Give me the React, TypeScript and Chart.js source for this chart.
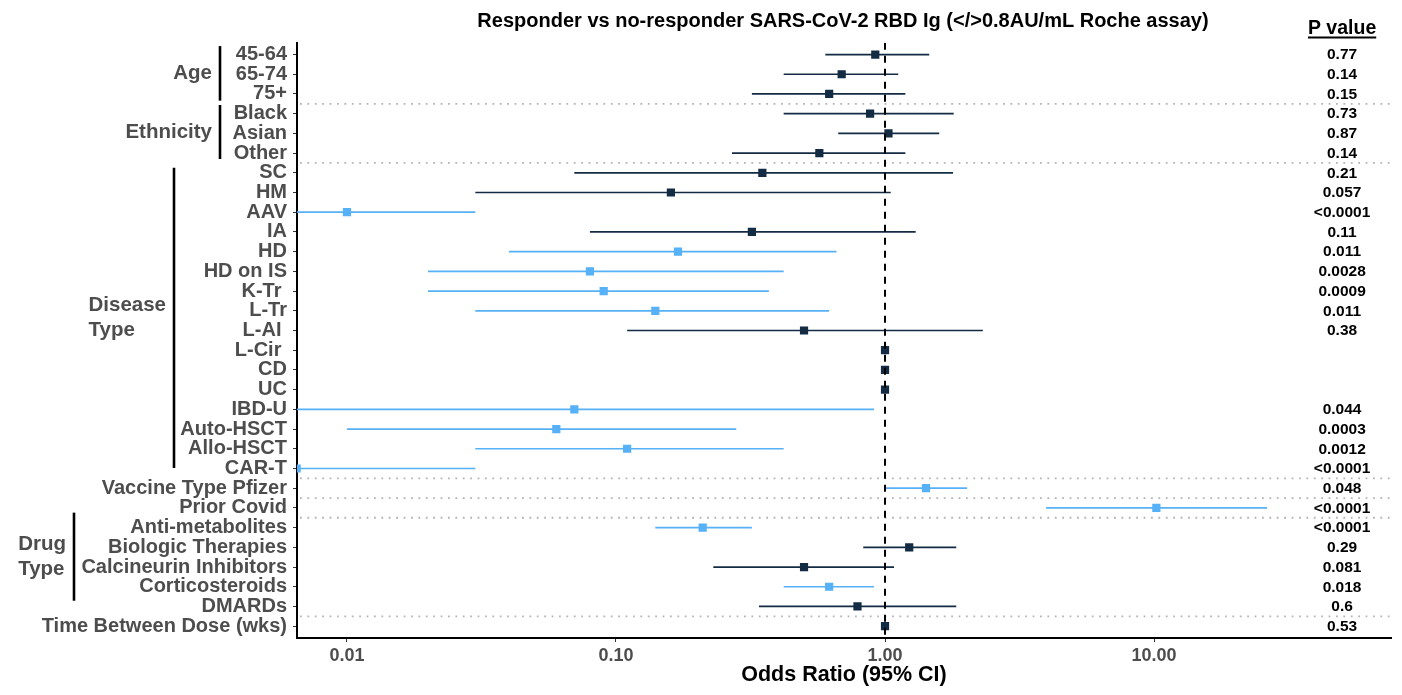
import React, { useEffect, useRef } from "react";
import { Chart, registerables } from "chart.js";

Chart.register(...registerables);

// ---------------- data ----------------
const TITLE = "Responder vs no-responder SARS-CoV-2 RBD Ig (</>0.8AU/mL Roche assay)";
const X_TITLE = "Odds Ratio (95% CI)";
const P_HEADER = "P value";

const ROW_LABELS = [
  "45-64", "65-74", "75+",
  "Black", "Asian", "Other",
  "SC", "HM", "AAV", "IA", "HD", "HD on IS", "K-Tr ", "L-Tr", "L-AI ", "L-Cir ", "CD", "UC",
  "IBD-U", "Auto-HSCT", "Allo-HSCT", "CAR-T",
  "Vaccine Type Pfizer",
  "Prior Covid",
  "Anti-metabolites", "Biologic Therapies", "Calcineurin Inhibitors", "Corticosteroids", "DMARDs",
  "Time Between Dose (wks)",
];

const ODDS_RATIO = [
  0.92, 0.69, 0.62,
  0.88, 1.03, 0.57,
  0.35, 0.16, 0.010, 0.32, 0.17, 0.080, 0.090, 0.14, 0.50, 1.0, 1.0, 1.0,
  0.070, 0.060, 0.11, 0.0065,
  1.42,
  10.2,
  0.21, 1.23, 0.50, 0.62, 0.79,
  1.0,
];

const CI_LOWER = [
  0.60, 0.42, 0.32,
  0.42, 0.67, 0.27,
  0.070, 0.030, 0.003, 0.080, 0.040, 0.020, 0.020, 0.030, 0.11, null, null, null,
  0.005, 0.010, 0.030, 0.001,
  1.0,
  3.97,
  0.14, 0.83, 0.23, 0.42, 0.34,
  null,
];

const CI_UPPER = [
  1.46, 1.12, 1.19,
  1.80, 1.59, 1.19,
  1.79, 1.05, 0.030, 1.30, 0.66, 0.42, 0.37, 0.62, 2.31, null, null, null,
  0.91, 0.28, 0.42, 0.030,
  2.02,
  26.3,
  0.32, 1.84, 1.08, 0.91, 1.84,
  null,
];

const P_LABELS = [
  "0.77", "0.14", "0.15",
  "0.73", "0.87", "0.14",
  "0.21", "0.057", "<0.0001", "0.11", "0.011", "0.0028", "0.0009", "0.011", "0.38", "", "", "",
  "0.044", "0.0003", "0.0012", "<0.0001",
  "0.048",
  "<0.0001",
  "<0.0001", "0.29", "0.081", "0.018", "0.6",
  "0.53",
];

const SECTION_LABELS = ["Age", "Ethnicity", "Disease\nType", "", "", "Drug\nType", ""];
const SECTION_SIZES = [3, 3, 16, 1, 1, 5, 1];

const X_TICKS = [0.01, 0.1, 1, 10];
const X_TICK_LABELS = ["0.01", "0.10", "1.00", "10.00"];
const X_MIN = 0.00652;
const X_MAX = 76;
const REF_VALUE = 1;
const P_COLUMN_VALUE = 50;
const SIG_LEVEL = 0.05;

// ---------------- style ----------------
const FONT = "'Liberation Sans', Arial, Helvetica, sans-serif";
const DARK = "#132B43";
const LIGHT = "#56B1F7";
const LABEL_GREY = "#4d4d4d";
const Y_PAD = 0.6;

// group bracket layout (pixel x of bar, extent in row units relative to first/last row)
const GROUP_STYLE: Array<{ x: number; top: number; bottom: number } | null> = [
  { x: 220, top: -0.43, bottom: 0.34 },
  { x: 220, top: -0.44, bottom: 0.3 },
  { x: 174, top: -0.25, bottom: -0.03 },
  null,
  null,
  { x: 74, top: -0.76, bottom: -0.29 },
  null,
];

const annotationPlugin = {
  id: "forestAnnotations",
  beforeDatasetsDraw(chart: any) {
    const { ctx, chartArea: a, scales } = chart;
    const y = scales.y;
    ctx.save();
    ctx.strokeStyle = "#b4b4b4";
    ctx.lineWidth = 1.8;
    ctx.setLineDash([1.8, 5.6]);
    let acc = 0;
    for (let s = 0; s < SECTION_SIZES.length - 1; s++) {
      acc += SECTION_SIZES[s];
      const py = y.getPixelForValue(acc - 0.5);
      ctx.beginPath();
      ctx.moveTo(a.left + 3, py);
      ctx.lineTo(a.right, py);
      ctx.stroke();
    }
    ctx.restore();
  },
  afterDraw(chart: any) {
    const { ctx, chartArea: a, scales } = chart;
    const x = scales.x;
    const y = scales.y;
    ctx.save();
    ctx.setLineDash([]);

    // title
    ctx.fillStyle = "#000";
    ctx.textAlign = "center";
    ctx.textBaseline = "middle";
    ctx.font = `bold 20px ${FONT}`;
    ctx.fillText(TITLE, (a.left + a.right) / 2 - 1, 21);

    // P value column
    const px = x.getPixelForValue(P_COLUMN_VALUE);
    ctx.font = `bold 19.5px ${FONT}`;
    ctx.fillText(P_HEADER, px, 29);
    const hw = ctx.measureText(P_HEADER).width;
    ctx.strokeStyle = "#000";
    ctx.lineWidth = 1.8;
    ctx.beginPath();
    ctx.moveTo(px - hw / 2, 37.5);
    ctx.lineTo(px + hw / 2, 37.5);
    ctx.stroke();

    ctx.font = `bold 15.5px ${FONT}`;
    P_LABELS.forEach((p, i) => {
      if (p) ctx.fillText(p, px, y.getPixelForValue(i) + 0.5);
    });

    // group labels and brackets
    let start = 0;
    SECTION_SIZES.forEach((n, si) => {
      const first = start;
      const last = start + n - 1;
      start += n;
      const name = SECTION_LABELS[si];
      const st = GROUP_STYLE[si];
      if (!name || !st) return;
      const yTop = y.getPixelForValue(first + st.top);
      const yBot = y.getPixelForValue(last + st.bottom);
      ctx.strokeStyle = "#000";
      ctx.lineWidth = 2.6;
      ctx.beginPath();
      ctx.moveTo(st.x, yTop);
      ctx.lineTo(st.x, yBot);
      ctx.stroke();

      const lines = name.split("\n");
      ctx.font = `bold 20.5px ${FONT}`;
      ctx.fillStyle = LABEL_GREY;
      ctx.textAlign = "left";
      const maxW = Math.max(...lines.map((l) => ctx.measureText(l).width));
      const left = st.x - 8 - maxW;
      const cy = (yTop + yBot) / 2;
      const lh = 25.5;
      lines.forEach((l, k) => {
        ctx.fillText(l, left, cy + (k - (lines.length - 1) / 2) * lh);
      });
    });
    ctx.restore();
  },
};

export default function App() {
  const canvasRef = useRef<HTMLCanvasElement | null>(null);

  useEffect(() => {
    document.body.style.margin = "0";
    document.body.style.overflow = "hidden";
    const canvas = canvasRef.current;
    if (!canvas) return;

    Chart.defaults.font.family = FONT;

    const n = ROW_LABELS.length;
    const yMin = -Y_PAD;
    const yMax = n - 1 + Y_PAD;

    const isSig = P_LABELS.map((p) => p !== "" && parseFloat(p.replace("<", "")) < SIG_LEVEL);
    const colors = isSig.map((s) => (s ? LIGHT : DARK));

    const ciSets: any[] = [];
    ROW_LABELS.forEach((_, i) => {
      const lo = CI_LOWER[i];
      const hi = CI_UPPER[i];
      if (lo == null || hi == null) return;
      ciSets.push({
        type: "line",
        data: [
          { x: lo, y: i },
          { x: hi, y: i },
        ],
        borderColor: colors[i],
        borderWidth: 1.7,
        pointRadius: 0,
        fill: false,
        order: 2,
      });
    });

    const refSet = {
      type: "line",
      data: [
        { x: REF_VALUE, y: yMin },
        { x: REF_VALUE, y: yMax },
      ],
      borderColor: "#000",
      borderWidth: 2,
      borderDash: [7, 6],
      pointRadius: 0,
      fill: false,
      order: 0,
    };

    const pointSet = {
      type: "scatter",
      data: ODDS_RATIO.map((v, i) => ({ x: v, y: i })),
      pointStyle: "rect",
      pointRadius: 5.8,
      backgroundColor: colors,
      borderWidth: 0,
      order: 1,
    };

    const chart = new Chart(canvas, {
      type: "scatter",
      data: { datasets: [...ciSets, refSet, pointSet] as any },
      plugins: [annotationPlugin],
      options: {
        animation: false,
        responsive: false,
        events: [],
        layout: { padding: { top: 42.7, right: 11, left: 0, bottom: 0 } },
        plugins: {
          legend: { display: false },
          tooltip: { enabled: false },
          title: { display: false },
        },
        scales: {
          x: {
            type: "logarithmic",
            position: "bottom",
            min: X_MIN,
            max: X_MAX,
            afterBuildTicks: (scale: any) => {
              scale.ticks = X_TICKS.map((v) => ({ value: v }));
            },
            afterFit: (scale: any) => {
              scale.height = 57;
            },
            ticks: {
              autoSkip: false,
              maxRotation: 0,
              padding: 3,
              color: LABEL_GREY,
              font: { size: 18, weight: "bold", family: FONT },
              callback: (_v: any, idx: number) => X_TICK_LABELS[idx],
            },
            grid: {
              drawOnChartArea: false,
              drawTicks: true,
              tickLength: 4,
              color: "#333333",
              lineWidth: 1,
            },
            border: { display: true, color: "#000", width: 2 },
            title: {
              display: true,
              text: X_TITLE,
              color: "#000",
              font: { size: 21.5, weight: "bold", family: FONT },
              padding: { top: 0, bottom: 7 },
            },
          },
          y: {
            type: "linear",
            position: "left",
            reverse: true,
            min: yMin,
            max: yMax,
            afterBuildTicks: (scale: any) => {
              scale.ticks = ROW_LABELS.map((_, i) => ({ value: i }));
            },
            afterFit: (scale: any) => {
              scale.width = 297;
            },
            ticks: {
              autoSkip: false,
              padding: 6,
              color: LABEL_GREY,
              font: { size: 20, weight: "bold", family: FONT },
              callback: (v: any) => ROW_LABELS[v as number] ?? "",
            },
            grid: {
              drawOnChartArea: false,
              drawTicks: true,
              tickLength: 4,
              color: "#333333",
              lineWidth: 1,
            },
            border: { display: true, color: "#000", width: 2 },
          },
        },
      } as any,
    });

    return () => chart.destroy();
  }, []);

  return (
    <div style={{ width: 1402, height: 695, position: "relative", background: "#fff" }}>
      <canvas
        ref={canvasRef}
        width={1402}
        height={695}
        style={{ display: "block", width: "1402px", height: "695px" }}
      />
    </div>
  );
}
